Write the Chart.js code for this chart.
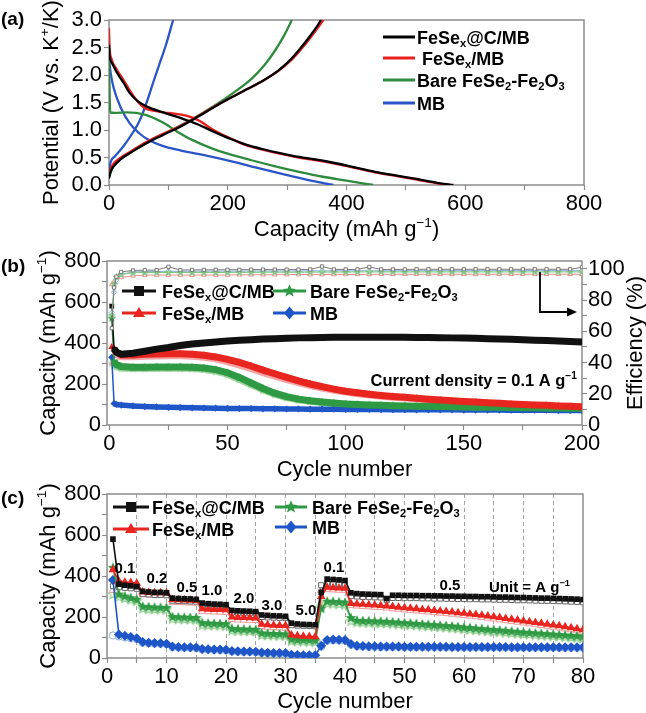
<!DOCTYPE html>
<html><head><meta charset="utf-8">
<script src="https://cdn.jsdelivr.net/npm/chart.js@4.4.1/dist/chart.umd.min.js"></script>
<style>
body{margin:0;background:#fff}
#wrap{position:relative;width:646px;height:713px;overflow:hidden;background:#fff}
canvas{position:absolute;left:0}
</style></head><body>
<div id="wrap">
<canvas id="chartA" width="646" height="245" style="top:0;width:646px;height:245px"></canvas>
<canvas id="chartB" width="646" height="245" style="top:245px;width:646px;height:245px"></canvas>
<canvas id="chartC" width="646" height="238" style="top:475px;width:646px;height:238px"></canvas>
</div>
<script>
// (a) charge / discharge profiles: [capacity mAh/g, potential V]
var blackDis = [[0,2.55],[1,2.35],[5,2.22],[13,2.05],[25,1.85],[35,1.67],[50,1.51],[63,1.43],[91,1.32],[120,1.22],[150,1.1],[176,0.97],[204,0.84],[232,0.73],[260,0.65],[288,0.58],[320,0.51],[350,0.46],[380,0.4],[410,0.33],[448,0.24],[485,0.17],[518,0.11],[553,0.04],[580,0]]
var blackCh = [[0,0.12],[3,0.25],[7,0.33],[20,0.47],[35,0.58],[63,0.76],[91,0.91],[120,1.06],[148,1.23],[176,1.41],[204,1.58],[232,1.74],[260,1.9],[285,2.08],[305,2.27],[322,2.48],[338,2.7],[350,2.88],[357,3.0]]
var redDis = [[0,2.85],[1,2.5],[4,2.3],[13,2.1],[25,1.9],[35,1.72],[48,1.52],[60,1.4],[75,1.35],[100,1.31],[130,1.26],[150,1.18],[176,1.0],[204,0.85],[232,0.72],[260,0.64],[288,0.57],[320,0.5],[350,0.45],[380,0.39],[410,0.32],[448,0.23],[485,0.16],[518,0.1],[553,0.03],[575,0]]
var redCh = [[0,0.2],[3,0.3],[7,0.38],[20,0.5],[35,0.6],[63,0.78],[91,0.93],[120,1.07],[148,1.24],[176,1.42],[204,1.58],[232,1.74],[260,1.9],[285,2.07],[305,2.25],[322,2.45],[338,2.66],[352,2.86],[361,3.0]]
var greenDis = [[0,2.25],[1,1.7],[2,1.32],[10,1.31],[30,1.32],[60,1.28],[90,1.14],[115,0.97],[140,0.82],[170,0.68],[200,0.57],[240,0.45],[280,0.34],[320,0.24],[360,0.15],[400,0.08],[445,0]]
var greenCh = [[0,0.15],[7,0.33],[35,0.58],[63,0.76],[91,0.92],[120,1.08],[150,1.26],[180,1.46],[210,1.68],[240,1.93],[262,2.18],[280,2.45],[295,2.72],[308,3.0]]
var blueDis = [[0,2.3],[3,2.02],[8,1.76],[20,1.4],[35,1.12],[50,0.95],[65,0.83],[90,0.71],[120,0.63],[170,0.52],[210,0.42],[250,0.31],[300,0.18],[340,0.08],[378,0]]
var blueCh = [[0,0.2],[2,0.38],[10,0.52],[24,0.7],[40,0.95],[52,1.18],[65,1.55],[74,1.85],[85,2.2],[96,2.55],[108,3.0]]

// (b) cycling at 0.1 A/g
var cyclesB = [1,2,3,5,10,15,20,25,30,35,40,45,50,55,60,65,70,75,80,85,90,95,100,105,110,115,120,125,130,135,140,145,150,155,160,165,170,175,180,185,190,195,200]
var capBlackB = [580,370,355,345,350,360,370,378,388,395,400,405,410,413,416,419,421,423,425,426,427,428,428,428,428,428,428,428,427,427,426,425,424,423,421,420,418,416,414,412,410,407,405]
var capRedB = [380,372,355,342,342,345,346,347,347,345,340,332,320,305,288,268,250,232,215,200,187,175,165,157,150,144,139,135,130,126,122,118,115,112,109,106,103,100,98,96,93,91,89]
var capRedChB = [300,350,340,330,330,333,334,335,335,333,328,320,306,290,272,253,236,219,204,190,178,167,158,150,144,138,133,129,125,121,117,114,111,108,105,102,99,97,95,93,90,88,86]
var capGreenB = [520,310,295,285,282,282,283,283,283,282,278,270,255,232,205,178,155,138,126,118,112,107,103,100,98,96,94,93,92,91,90,89,88,87,86,86,85,84,84,83,83,82,82]
var capGreenChB = [300,290,282,275,273,273,274,274,274,273,269,260,244,220,194,168,147,131,120,113,107,102,99,96,94,92,91,90,89,88,87,86,85,84,84,83,82,82,81,81,80,80,79]
var capBlueB = [330,105,100,97,93,90,88,86,85,84,83,82,81,80,80,79,79,78,78,77,77,77,76,76,76,75,75,75,74,74,74,74,73,73,73,73,72,72,72,72,71,71,71]
var effBlackB = [62,88,95,98,99,99.1,99.2,101.3,99.2,99.3,99.3,99.4,99.4,99.4,99.5,99.5,99.5,99.5,99.5,99.6,101.5,99.6,99.6,99.6,101.2,99.6,99.6,99.6,99.7,99.7,99.7,99.7,99.7,99.7,99.7,99.7,99.7,99.7,99.7,99.7,99.7,99.7,101]
var effRedB = [90,92,93.5,94.5,95.5,96,96,96,96,96,96,96,96,96.2,96.2,96.2,96.2,96.3,96.3,96.3,96.3,96.4,96.4,96.4,96.4,96.5,96.5,96.5,96.5,96.5,96.5,96.5,96.5,96.5,96.5,96.5,96.5,96.5,96.5,96.5,96.5,96.5,96.5]
var effGreenB = [70,90,94.5,96.5,97.5,97.6,97.6,97.6,97.6,97.6,97.6,97.6,97.7,97.7,97.7,97.8,97.8,97.8,97.8,97.9,97.9,97.9,97.9,98,98,98,98,98,98,98,98,98,98,98,98,98,98,98,98,98,98,98,98]
var effBlueB = [72,85,93,96.5,98,98.2,98.3,98.4,98.4,98.5,98.5,98.5,98.5,98.5,98.6,98.6,98.6,98.6,98.6,98.6,98.7,98.7,98.7,98.7,98.7,98.7,98.7,98.7,98.8,98.8,98.8,98.8,98.8,98.8,98.8,98.8,98.8,98.8,98.8,98.8,98.8,98.8,98.8]

// (c) rate capability
var cyclesC = [1,2,3,4,5,6,7,8,9,10,11,12,13,14,15,16,17,18,19,20,21,22,23,24,25,26,27,28,29,30,31,32,33,34,35,36,37,38,39,40,41,42,43,44,45,46,47,48,49,50,51,52,53,54,55,56,57,58,59,60,61,62,63,64,65,66,67,68,69,70,71,72,73,74,75,76,77,78,79,80]
var capBlackC = [580,360,355,352,348, 325,322,320,320,318, 292,290,289,288,286, 268,265,263,262,260, 232,230,229,228,226, 210,208,206,205,203, 170,166,164,163,162, 320,385,383,381,378, 318,314,312,311,310, 309,290,306,306,305, 305,305,304,304,303, 303,302,302,301,301, 300,300,299,299,298, 297,297,296,295,295, 294,293,292,292,291, 290,289,288,287,285]
var capBlackChC = [350,345,342,340,338, 312,310,308,308,306, 280,278,277,276,275, 255,253,252,251,250, 222,220,219,218,217, 200,198,197,196,195, 160,158,157,156,155, 355,362,360,358,356, 302,300,298,297,296, 295,282,293,293,292, 292,292,291,291,290, 290,289,289,288,288, 287,287,286,286,285, 284,284,283,282,282, 281,280,279,279,278, 277,276,275,274,272]
var capRedC = [430,375,370,368,365, 322,320,318,318,317, 285,284,283,282,281, 240,238,237,236,235, 200,198,197,196,195, 165,162,160,159,158, 112,108,106,105,104, 300,345,343,341,340, 266,264,262,260,258, 256,254,251,248,245, 243,240,237,235,232, 229,227,224,221,218, 215,212,208,205,201, 197,193,189,185,181, 177,173,169,165,161, 157,152,148,143,138]
var capRedChC = [330,362,358,356,354, 310,308,307,306,305, 272,271,270,269,268, 228,226,225,224,223, 188,186,185,184,183, 153,150,148,147,146, 100,97,95,94,93, 330,335,333,331,330, 256,254,252,250,248, 246,244,241,238,235, 233,230,227,225,222, 219,217,214,211,208, 205,202,198,195,191, 187,183,179,175,171, 167,163,159,155,151, 147,142,138,133,128]
var capGreenC = [440,310,300,292,285, 250,248,246,245,244, 200,198,197,196,195, 170,168,167,166,165, 142,140,139,138,137, 120,118,117,116,115, 90,88,87,86,85, 240,275,274,272,270, 195,182,180,179,178, 177,176,174,172,170, 168,166,164,162,160, 158,156,154,151,148, 146,143,141,138,136, 134,131,129,126,124, 122,120,118,116,114, 112,110,108,106,104]
var capGreenChC = [310,298,290,283,277, 240,238,237,236,235, 190,189,188,187,186, 160,159,158,157,156, 133,132,131,130,129, 111,110,109,108,107, 82,80,79,78,77, 250,265,264,262,260, 180,174,172,171,170, 169,168,166,164,162, 160,158,156,154,152, 150,148,146,143,140, 138,135,133,130,128, 126,123,121,118,116, 114,112,110,108,106, 104,102,100,98,96]
var capBlueC = [380,115,108,102,96, 78,75,73,72,70, 56,54,53,52,51, 44,43,42,41,40, 34,33,32,32,31, 27,26,25,25,24, 16,15,14,14,13, 60,88,90,89,88, 68,60,58,57,57, 56,56,56,56,55, 55,55,55,55,55, 55,55,54,54,54, 54,54,54,54,54, 54,54,53,53,53, 53,53,53,53,53, 53,52,52,52,52]
var capBlueChC = [110,105,100,96,92, 74,72,70,69,67, 53,51,50,49,48, 41,40,39,38,37, 31,30,29,29,28, 24,23,22,22,21, 13,12,11,11,10, 55,84,86,85,84, 64,57,55,54,54, 53,53,53,53,52, 52,52,52,52,52, 52,52,51,51,51, 51,51,51,51,51, 51,51,50,50,50, 50,50,50,50,50, 50,49,49,49,49]
var rateLabels = ["0.1","0.2","0.5","1.0","2.0","3.0","5.0","0.1","0.5"]

var FAM = '"Liberation Sans", Arial, Helvetica, sans-serif'
var BLACK = '#111', RED = '#e8251f', GREEN = '#2f9a44', BLUE = '#1e56c8'
var FRAME = '#8c8c8c'

function pairs(arr){ return arr.map(function(p){ return {x: p[0], y: p[1]} }) }
function zipXY(xs, ys){ return xs.map(function(x, i){ return {x: x, y: ys[i]} }) }

// text with sub (1) / sup (2) pieces, y is the baseline
function rich(ctx, parts, x, y, size, bold, align){
    var w = [], total = 0
    parts.forEach(function(p){
        ctx.font = (bold ? 'bold ' : '') + (p[1] ? size*0.62 : size) + 'px ' + FAM
        var m = ctx.measureText(p[0]).width
        w.push(m); total += m
    })
    var cx = align == 'center' ? x - total/2 : (align == 'right' ? x - total : x)
    ctx.textAlign = 'left'; ctx.textBaseline = 'alphabetic'
    parts.forEach(function(p, i){
        ctx.font = (bold ? 'bold ' : '') + (p[1] ? size*0.62 : size) + 'px ' + FAM
        var dy = p[1] == 1 ? size*0.22 : (p[1] == 2 ? -size*0.4 : 0)
        ctx.fillText(p[0], cx, y + dy)
        cx += w[i]
    })
}
function richRot(ctx, parts, cx, cy, size, bold){
    ctx.save(); ctx.translate(cx, cy); ctx.rotate(-Math.PI/2)
    rich(ctx, parts, 0, size*0.36, size, bold, 'center')
    ctx.restore()
}
function starPath(g, x, y, r){
    g.beginPath()
    for(var i = 0; i < 10; i++){
        var rr = i % 2 ? r*0.45 : r
        var a = -Math.PI/2 + i*Math.PI/5
        g.lineTo(x + rr*Math.cos(a), y + rr*Math.sin(a))
    }
    g.closePath()
}
function starImg(r, fill, stroke){
    var c = document.createElement('canvas')
    var s = Math.ceil(r*2 + 3)
    c.width = s; c.height = s
    var g = c.getContext('2d')
    starPath(g, s/2, s/2, r)
    if(fill){ g.fillStyle = fill; g.fill() }
    if(stroke){ g.strokeStyle = stroke; g.lineWidth = 1.1; g.stroke() }
    return c
}
function drawMarker(ctx, style, x, y, r, fill){
    ctx.fillStyle = fill
    ctx.beginPath()
    if(style == 'rect') ctx.rect(x - r, y - r, 2*r, 2*r)
    else if(style == 'triangle'){ ctx.moveTo(x, y - r*1.2); ctx.lineTo(x + r*1.2, y + r*0.8); ctx.lineTo(x - r*1.2, y + r*0.8); ctx.closePath() }
    else if(style == 'rectRot'){ ctx.moveTo(x, y - r*1.3); ctx.lineTo(x + r*1.1, y); ctx.lineTo(x, y + r*1.3); ctx.lineTo(x - r*1.1, y); ctx.closePath() }
    else if(style == 'star') starPath(ctx, x, y, r*1.35)
    ctx.fill()
}
function legendRow(ctx, it){
    ctx.strokeStyle = it.color; ctx.lineWidth = 3
    ctx.beginPath(); ctx.moveTo(it.x1, it.y); ctx.lineTo(it.x2, it.y); ctx.stroke()
    if(it.style) drawMarker(ctx, it.style, (it.x1 + it.x2)/2, it.y, 5, it.color)
    ctx.fillStyle = '#000'
    rich(ctx, it.parts, it.tx, it.y + 6.5, 18, true, 'left')
}
function makeDecor(draw){
    return {
        id: 'decor',
        beforeDatasetsDraw: function(chart){
            var a = chart.chartArea, ctx = chart.ctx
            ctx.save(); ctx.strokeStyle = FRAME; ctx.lineWidth = 1.5
            ctx.strokeRect(a.left, a.top, a.right - a.left, a.bottom - a.top)
            ctx.restore()
        },
        afterDraw: function(chart){
            var ctx = chart.ctx
            ctx.save(); ctx.fillStyle = '#000'
            draw(ctx, chart)
            ctx.restore()
        }
    }
}
function tickGrid(){ return {drawOnChartArea: false, drawTicks: true, tickLength: 5, tickColor: FRAME, tickWidth: 1.2} }
function tickFont(){ return {family: FAM, size: 22} }

var capUnit = [['Capacity (mAh g', 0], ['\u22121', 2], [')', 0]]
var nameC = [['FeSe', 0], ['x', 1], ['@C/MB', 0]]
var nameX = [['FeSe', 0], ['x', 1], ['/MB', 0]]
var nameBare = [['Bare FeSe', 0], ['2', 1], ['-Fe', 0], ['2', 1], ['O', 0], ['3', 1]]
var nameMB = [['MB', 0]]

// ---------------- (a) ----------------
function lineSet(data, color){
    return {data: pairs(data), borderColor: color, borderWidth: 2.3, pointRadius: 0, cubicInterpolationMode: 'monotone', fill: false}
}
new Chart(document.getElementById('chartA'), {
    type: 'line',
    data: {datasets: [
        lineSet(blackDis, '#000'), lineSet(blackCh, '#000'),
        lineSet(redDis, '#e82020'), lineSet(redCh, '#e82020'),
        lineSet(greenDis, '#2e8b3e'), lineSet(greenCh, '#2e8b3e'),
        lineSet(blueDis, '#2a55c8'), lineSet(blueCh, '#2a55c8')
    ]},
    options: {
        animation: false, responsive: false,
        layout: {padding: {left: 0, right: 62, top: 20, bottom: 0}},
        plugins: {legend: {display: false}, tooltip: {enabled: false}},
        scales: {
            x: {type: 'linear', min: 0, max: 800, afterFit: function(s){ s.height = 60 },
                ticks: {stepSize: 100, maxTicksLimit: 100, autoSkip: false, maxRotation: 0, padding: 1, color: '#000', font: tickFont(),
                        callback: function(v){ return v % 200 === 0 ? v : '' }},
                grid: tickGrid(), border: {display: false}},
            y: {min: 0, max: 3, afterFit: function(s){ s.width = 109 },
                ticks: {stepSize: 0.5, maxTicksLimit: 100, autoSkip: false, padding: 2, color: '#000', font: tickFont(),
                        callback: function(v){ return v.toFixed(1) }},
                grid: tickGrid(), border: {display: false}}
        }
    },
    plugins: [makeDecor(function(ctx, chart){
        rich(ctx, [['(a)', 0]], 1, 25, 19, true, 'left')
        richRot(ctx, [['Potential (V vs. K', 0], ['+', 2], ['/K)', 0]], 50, 102.5, 22, false)
        rich(ctx, capUnit, 346.5, 236, 22, false, 'center')
        var rows = [
            {y: 37, color: '#000', parts: nameC, tx: 417},
            {y: 58, color: '#e82020', parts: nameX, tx: 422},
            {y: 80, color: '#2e8b3e', parts: nameBare, tx: 417},
            {y: 103, color: '#2a55c8', parts: nameMB, tx: 417}
        ]
        rows.forEach(function(r){ legendRow(ctx, {x1: 383, x2: 415, y: r.y, color: r.color, parts: r.parts, tx: r.tx}) })
    })]
})

// ---------------- (b) ----------------
var starB = starImg(4.5, GREEN)
var starBL = starImg(4.5, '#9fd6a0')
var starEff = starImg(3, null, '#7cc47c')
function bandSet(ys, color, style, bw, r){
    return {data: zipXY(cyclesB, ys), borderColor: color, backgroundColor: color, pointStyle: style, pointRadius: r, pointBorderWidth: 0,
            borderWidth: bw, segment: {borderWidth: function(c){ return c.p0DataIndex === 0 ? 1.5 : bw }}, yAxisID: 'y'}
}
function effSet(ys, color, style, r){
    return {data: zipXY(cyclesB, ys), borderColor: color, backgroundColor: '#fff', pointStyle: style, pointRadius: r, pointBorderWidth: 1,
            borderWidth: 1, yAxisID: 'y2'}
}
new Chart(document.getElementById('chartB'), {
    type: 'line',
    data: {datasets: [
        effSet(effBlackB, '#7a7a7a', 'rect', 2.3),
        effSet(effGreenB, '#7cc47c', starEff, 3),
        effSet(effBlueB, '#86a8e8', 'rectRot', 2.6),
        effSet(effRedB, '#f08c8c', 'triangle', 2.6),
        bandSet(capBlackB, BLACK, 'rect', 7, 3.4),
        bandSet(capRedB, RED, 'triangle', 7, 4),
        bandSet(capGreenB, GREEN, starB, 7, 4),
        bandSet(capBlueB, BLUE, 'rectRot', 5.5, 3.6),
        bandSet(capRedChB, '#f4a5a5', 'triangle', 6, 3.6),
        bandSet(capGreenChB, '#a3d6a3', starBL, 6, 3.6)
    ]},
    options: {
        animation: false, responsive: false,
        layout: {padding: {left: 0, right: 0, top: 16, bottom: 0}},
        plugins: {legend: {display: false}, tooltip: {enabled: false}},
        scales: {
            x: {type: 'linear', min: -1, max: 200, afterFit: function(s){ s.height = 65 },
                ticks: {stepSize: 25, includeBounds: false, maxTicksLimit: 100, autoSkip: false, maxRotation: 0, padding: 1, color: '#000', font: tickFont(),
                        callback: function(v){ return v % 50 === 0 ? v : '' }},
                grid: tickGrid(), border: {display: false}},
            y: {min: 0, max: 800, position: 'left', afterFit: function(s){ s.width = 107 },
                ticks: {stepSize: 100, maxTicksLimit: 100, autoSkip: false, padding: 1, color: '#000', font: tickFont(),
                        callback: function(v){ return v % 200 === 0 ? v : '' }},
                grid: tickGrid(), border: {display: false}},
            y2: {min: 0, max: 105, position: 'right', afterFit: function(s){ s.width = 64 },
                ticks: {stepSize: 10, includeBounds: false, maxTicksLimit: 100, autoSkip: false, padding: 1, color: '#000', font: tickFont(),
                        callback: function(v){ return v % 20 === 0 ? v : '' }},
                grid: tickGrid(), border: {display: false}}
        }
    },
    plugins: [makeDecor(function(ctx, chart){
        rich(ctx, [['(b)', 0]], 1, 27, 19, true, 'left')
        richRot(ctx, capUnit, 47, 98, 22, false)
        richRot(ctx, [['Efficiency (%)', 0]], 634, 98, 22, false)
        rich(ctx, [['Cycle number', 0]], 344.5, 231, 22, false, 'center')
        legendRow(ctx, {x1: 122, x2: 156, y: 46, color: BLACK, style: 'rect', parts: nameC, tx: 162})
        legendRow(ctx, {x1: 122, x2: 156, y: 68, color: RED, style: 'triangle', parts: nameX, tx: 162})
        legendRow(ctx, {x1: 273, x2: 306, y: 46, color: GREEN, style: 'star', parts: nameBare, tx: 310})
        legendRow(ctx, {x1: 273, x2: 306, y: 68, color: BLUE, style: 'rectRot', parts: nameMB, tx: 310})
        ctx.fillStyle = '#000'
        rich(ctx, [['Current density = 0.1 A g', 0], ['\u22121', 2]], 577, 141, 16.5, true, 'right')
        // arrow towards the efficiency axis
        ctx.strokeStyle = '#000'; ctx.lineWidth = 1.8
        ctx.beginPath(); ctx.moveTo(540, 27); ctx.lineTo(540, 67); ctx.lineTo(568, 67); ctx.stroke()
        ctx.beginPath(); ctx.moveTo(577, 67); ctx.lineTo(567, 62.5); ctx.lineTo(567, 71.5); ctx.closePath(); ctx.fill()
    })]
})

// ---------------- (c) ----------------
var starC = starImg(5.5, GREEN)
var starCL = starImg(5, null, '#8fcf8f')
function rateSet(ys, color, style, r){
    return {data: zipXY(cyclesC, ys), borderColor: color, backgroundColor: color, pointStyle: style, pointRadius: r, pointBorderWidth: 0, borderWidth: 1.6}
}
function hollowSet(ys, color, style, r){
    return {data: zipXY(cyclesC, ys), borderColor: color, backgroundColor: '#fff', pointStyle: style, pointRadius: r, pointBorderWidth: 1, borderWidth: 1}
}
new Chart(document.getElementById('chartC'), {
    type: 'line',
    data: {datasets: [
        rateSet(capBlackC, BLACK, 'rect', 4),
        rateSet(capRedC, RED, 'triangle', 5),
        rateSet(capGreenC, GREEN, starC, 5),
        rateSet(capBlueC, BLUE, 'rectRot', 5),
        hollowSet(capBlackChC, '#666', 'rect', 3.6),
        hollowSet(capRedChC, '#f29a9a', 'triangle', 4.2),
        hollowSet(capGreenChC, '#8fcf8f', starCL, 4.5),
        hollowSet(capBlueChC, '#8aaee8', 'circle', 3.6)
    ]},
    options: {
        animation: false, responsive: false,
        layout: {padding: {left: 0, right: 63, top: 19, bottom: 0}},
        plugins: {legend: {display: false}, tooltip: {enabled: false}},
        scales: {
            x: {type: 'linear', min: 0, max: 80, afterFit: function(s){ s.height = 55 },
                ticks: {stepSize: 5, maxTicksLimit: 100, autoSkip: false, maxRotation: 0, padding: 1, color: '#000', font: tickFont(),
                        callback: function(v){ return v % 10 === 0 ? v : '' }},
                grid: {drawOnChartArea: true, drawTicks: true, tickLength: 5, tickColor: FRAME, tickWidth: 1.2, lineWidth: 1,
                       color: function(c){ var v = c.tick ? c.tick.value : 0; return (v > 0 && v < 80) ? '#a5a5a5' : 'rgba(0,0,0,0)' }},
                border: {display: false, dash: [4, 3]}},
            y: {min: 0, max: 800, afterFit: function(s){ s.width = 107 },
                ticks: {stepSize: 100, maxTicksLimit: 100, autoSkip: false, padding: 1, color: '#000', font: tickFont(),
                        callback: function(v){ return v % 200 === 0 ? v : '' }},
                grid: tickGrid(), border: {display: false}}
        }
    },
    plugins: [makeDecor(function(ctx, chart){
        rich(ctx, [['(c)', 0]], 1, 29, 19, true, 'left')
        richRot(ctx, capUnit, 47, 101, 22, false)
        rich(ctx, [['Cycle number', 0]], 345, 233, 22, false, 'center')
        legendRow(ctx, {x1: 113, x2: 149, y: 32, color: BLACK, style: 'rect', parts: nameC, tx: 152})
        legendRow(ctx, {x1: 113, x2: 149, y: 54, color: RED, style: 'triangle', parts: nameX, tx: 152})
        legendRow(ctx, {x1: 275, x2: 307, y: 32, color: GREEN, style: 'star', parts: nameBare, tx: 312})
        legendRow(ctx, {x1: 275, x2: 307, y: 52, color: BLUE, style: 'rectRot', parts: nameMB, tx: 312})
        var pos = [[125, 93], [157, 103], [187, 112], [212, 115], [244, 123], [272, 130], [306, 135], [334, 92], [450, 110]]
        ctx.fillStyle = '#000'
        rateLabels.forEach(function(t, i){ rich(ctx, [[t, 0]], pos[i][0], pos[i][1] + 5.4, 15, true, 'center') })
        rich(ctx, [['Unit = A g', 0], ['\u22121', 2]], 570, 116.5, 15, true, 'right')
    })]
})
</script>
</body></html>
